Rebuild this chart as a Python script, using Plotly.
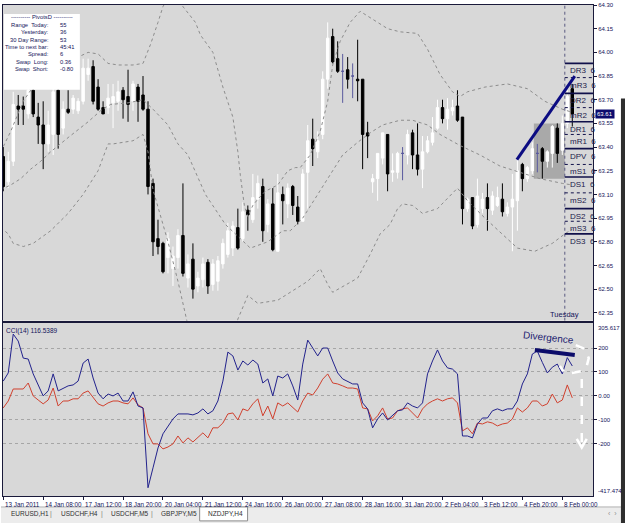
import plotly.graph_objects as go

# ---------------- data ----------------
open_ = [63.34,63.18,63.31,63.66,63.66,63.61,63.76,63.59,63.54,63.42,63.48,63.76,63.52,63.64,63.64,63.63,63.69,63.86,63.91,63.78,
         63.65,63.65,63.68,63.69,63.76,63.72,63.69,63.78,63.73,63.64,63.17,62.82,62.79,62.70,62.63,62.70,62.84,62.57,62.69,62.52,
         62.56,62.67,62.53,62.55,62.66,62.72,62.76,62.89,62.82,63.00,62.94,63.07,63.15,62.91,63.04,62.74,63.10,63.04,63.15,63.02,
         62.93,63.24,63.45,63.37,63.48,63.83,64.10,63.96,63.88,63.89,63.85,63.83,63.83,63.49,63.18,63.20,63.33,63.48,63.24,63.24,
         63.36,63.35,63.49,63.35,63.26,63.37,63.43,63.52,63.65,63.58,63.63,63.66,63.59,63.01,63.08,62.91,63.01,63.08,63.00,63.03,
         63.07,62.98,63.02,63.06,63.29,63.20,63.25,63.36,63.39,63.31,63.36,63.52,63.38,63.55,63.77]
high = [63.40,63.37,63.75,63.73,63.72,63.82,63.82,63.68,63.69,63.63,63.80,63.78,63.69,63.76,63.73,63.71,63.96,63.96,63.95,63.83,
        63.69,63.80,63.80,63.82,63.78,63.89,63.82,63.80,63.85,63.69,63.20,62.94,62.80,62.86,62.77,62.88,63.17,62.72,62.79,62.61,
        62.70,62.69,62.69,62.71,62.82,62.92,62.93,63.01,63.05,63.03,63.23,63.22,63.20,63.07,63.14,63.23,63.15,63.17,63.16,63.09,
        63.26,63.54,63.58,63.50,63.88,64.19,64.15,64.07,63.99,63.97,63.93,64.08,63.83,63.56,63.23,63.36,63.49,63.48,63.36,63.37,
        63.40,63.51,63.51,63.55,63.47,63.47,63.59,63.70,63.70,63.71,63.70,63.76,63.59,63.08,63.08,63.20,63.11,63.17,63.12,63.15,
        63.17,63.05,63.23,63.33,63.30,63.28,63.43,63.42,63.40,63.38,63.54,63.55,63.60,63.76,63.80]
low = [63.12,63.14,63.28,63.54,63.54,63.58,63.59,63.42,63.26,63.37,63.35,63.39,63.48,63.61,63.61,63.61,63.67,63.82,63.67,63.63,
       63.61,63.61,63.52,63.63,63.58,63.56,63.63,63.56,63.63,63.10,62.71,62.72,62.60,62.60,62.52,62.63,62.58,62.51,62.44,62.48,
       62.51,62.47,62.49,62.49,62.63,62.70,62.71,62.75,62.80,62.87,62.92,63.01,62.80,62.86,62.74,62.74,62.91,62.95,62.97,62.91,
       62.93,63.01,63.28,63.33,63.45,63.77,63.93,63.87,63.68,63.77,63.71,63.69,63.26,63.33,63.11,63.06,63.29,63.12,63.18,63.20,
       63.19,63.29,63.26,63.22,63.14,63.36,63.41,63.51,63.55,63.51,63.60,63.56,62.91,62.99,62.88,62.89,62.98,62.87,62.97,63.02,
       62.96,62.96,62.74,62.87,63.12,63.18,63.23,63.24,63.20,63.27,63.27,63.30,63.35,63.52,63.53]
close = [63.15,63.31,63.67,63.64,63.64,63.76,63.61,63.54,63.42,63.54,63.75,63.48,63.64,63.62,63.71,63.69,63.90,63.90,63.69,63.64,
         63.61,63.71,63.72,63.75,63.70,63.67,63.80,63.69,63.64,63.15,62.80,62.77,62.61,62.82,62.71,62.84,62.60,62.66,62.50,62.57,
         62.66,62.52,62.66,62.68,62.79,62.87,62.90,62.76,62.99,62.97,63.08,63.17,62.87,63.04,62.75,63.11,63.06,63.14,63.03,62.93,
         63.23,63.44,63.39,63.44,63.83,64.09,63.94,63.88,63.88,63.83,63.85,63.82,63.48,63.47,63.20,63.36,63.49,63.23,63.25,63.36,
         63.36,63.48,63.35,63.26,63.37,63.44,63.49,63.65,63.58,63.64,63.65,63.57,63.01,63.07,62.90,63.09,63.07,63.01,63.09,63.08,
         62.99,63.02,63.07,63.25,63.20,63.27,63.39,63.36,63.31,63.37,63.53,63.36,63.55,63.72,63.61]
doji_bars = [68, 70, 80, 107]

bb_upper_x = [-0.5,1.5,4,5.5,8,11,15,17,19,21,23,26,28,29.5,31,32,33.5,34.5,36,38.5,39.5,42,44,46,47,47.5,48.3,49,50,51,52.5,55,57,
              58.5,59.5,61.5,63.5,65,66,67.5,69.5,71.5,74,77,79.5,83,85,87.5,90,91.5,93,96.5,101,105,108.5,112,114]
bb_upper_y = [63.37,63.50,63.69,63.76,63.86,63.93,63.97,64.00,63.99,63.93,63.92,63.92,63.93,64.05,64.19,64.29,64.37,64.38,64.29,64.19,
              64.11,64.00,63.78,63.59,63.37,63.22,63.03,62.96,63.03,63.07,63.12,63.16,63.25,63.27,63.27,63.35,63.50,63.69,63.92,64.07,
              64.19,64.26,64.21,64.15,64.13,64.12,64.02,63.86,63.75,63.72,63.75,63.78,63.80,63.77,63.69,63.64,63.62]
bb_mid_x = [-0.5,1.5,3.5,5.5,7.5,9.5,13,17,19.5,21.5,25,28,30,33,35,37,40.5,44.5,47.5,49.5,53,56,57.5,60,63,65,68,71,73.5,76,79.5,
            82,85,87.5,91.5,95.5,99.5,103.5,107.5,112,114]
bb_mid_y = [63.13,63.16,63.20,63.26,63.31,63.37,63.46,63.56,63.63,63.67,63.68,63.70,63.64,63.54,63.42,63.35,63.10,62.91,62.82,62.76,
            62.80,62.87,62.87,62.95,63.10,63.20,63.35,63.43,63.49,63.54,63.57,63.57,63.54,63.48,63.41,63.35,63.28,63.24,63.20,63.17,63.16]
bb_lower_x = [-0.5,1,2,4,6,9.5,13,16,19,21,22,26,28,29,30,31.5,33,35,37,39,41,43,45,47,49,51,55,58,61,63.5,65,66,71,73.5,75.5,77.5,
              79,80,82,84,87,91,93,96.5,100,103,106.5,110,112.5,114]
bb_lower_y = [62.89,62.85,62.79,62.77,62.79,62.87,62.98,63.10,63.25,63.42,63.42,63.44,63.48,63.37,63.13,62.96,62.80,62.55,62.27,62.19,
              62.11,62.01,62.09,62.31,62.46,62.41,62.43,62.49,62.55,62.63,62.53,62.48,62.57,62.72,62.85,62.91,63.01,63.04,63.03,62.98,
              63.01,63.14,63.06,62.95,62.85,62.76,62.74,62.79,62.85,62.88]

cci_fast = [62,96,258,229,158,154,92,42,0,21,92,21,33,42,46,62,137,154,75,12,
            -12,8,0,12,-21,-21,17,-42,-50,-383,-300,-217,-158,-125,-96,-75,-75,-75,-79,-71,
            -54,-75,-62,-21,62,183,167,108,146,129,150,133,54,71,0,83,75,92,42,-17,
            133,233,200,167,200,200,146,96,71,62,50,50,-29,-54,-133,-96,-71,-100,-83,-62,
            -58,-29,-42,-50,-29,92,146,192,146,117,112,92,-167,-167,-175,-117,-92,-92,-62,-54,
            -62,-54,-54,-21,50,92,175,187,140,96,120,133,92,160,125]
cci_slow = [-50,-21,29,29,29,54,0,-17,-33,-17,33,-42,-21,-21,-12,-12,12,21,-8,-33,
            -42,-29,-21,-21,-29,-33,-8,-37,-50,-158,-200,-200,-221,-213,-200,-167,-196,-175,-192,-175,
            -154,-175,-133,-133,-113,-75,-71,-100,-54,-62,-33,-12,-83,-42,-96,-29,-42,-29,-46,-67,
            -21,12,4,33,70,92,54,50,42,33,33,29,-50,-54,-104,-83,-50,-96,-92,-62,
            -54,-50,-71,-92,-54,-33,-21,-12,-21,-12,-8,-29,-146,-133,-158,-113,-117,-108,-113,-125,
            -117,-113,-96,-50,-67,-50,-21,-21,-42,-33,8,-29,-17,46,-8]

date_pos = [0,8,16,24,32,40,48,56,64,72,80,88,96,104,112]
date_labels = ["13 Jan 2011","14 Jan 08:00","17 Jan 12:00","18 Jan 20:00","20 Jan 04:00","21 Jan 12:00","24 Jan 16:00",
               "26 Jan 00:00","27 Jan 08:00","28 Jan 16:00","31 Jan 20:00","2 Feb 04:00","3 Feb 12:00","4 Feb 20:00","8 Feb 00:00"]

price_ticks = [62.35,62.50,62.65,62.80,62.95,63.10,63.25,63.40,63.55,63.70,63.85,64.00,64.15,64.30]
cci_ticks = [200,100,0,-100,-200]
cci_ticktext = ["200","100","0.00","-100","-200"]
cci_max, cci_min = 305.617, -417.474
last_price = 63.61

pivot_names = ["DR3","mR3","DR2","mR2","DR1","mR1","DPV","mS1","DS1","mS2","DS2","mS3","DS3"]
pivot_levels = [63.93,63.84,63.74,63.65,63.56,63.48,63.39,63.29,63.21,63.11,63.01,62.93,62.85]

info_labels = ["Range  Today:","Yesterday:","30 Day Range:","Time to next bar:","Spread:","Swap  Long:","Swap  Short:"]
info_values = ["55","36","53","45:41","6","0.36","-0.80"]

tabs = ["EURUSD,H1","USDCHF,H4","USDCHF,M5","GBPJPY,M5","NZDJPY,H4"]
tab_x = [8,58,108,158,205]

trend_x = [102.9,114.5]
trend_y = [63.32,63.85]
box_x = [106.3,112.5]
box_y = [63.20,63.55]
div_x = [106.5,114.5]
div_y = [192,171]
arc_x = [114.7,116.5,117.3,116.9,115.9,113.9,112.5,111.5]
arc_y = [212,196,158,125,104,96,96,125]
separator_bar = 112.5

# ---------------- helpers ----------------
W, H = 625, 523
ML, MR, MT, MB = 2, 32, 3, 27
PW, PH = W - ML - MR, H - MT - MB
def PX(px): return (px - ML) / PW
def PY(py): return (H - MB - py) / PH

NAVY = "#14145a"
FRAME = "#1a1a3a"
FONT = "Liberation Sans"

n = len(open_)
bars = list(range(n))
norm = [i for i in bars if i not in doji_bars]

fig = go.Figure()
fig.add_trace(go.Candlestick(
    x=[bars[i] for i in norm], open=[open_[i] for i in norm], high=[high[i] for i in norm],
    low=[low[i] for i in norm], close=[close[i] for i in norm],
    increasing=dict(line=dict(color="white", width=1), fillcolor="white"),
    decreasing=dict(line=dict(color="black", width=1), fillcolor="black"),
    whiskerwidth=0, showlegend=False, hoverinfo="skip", xaxis="x", yaxis="y"))
fig.add_trace(go.Candlestick(
    x=doji_bars, open=[open_[i] for i in doji_bars], high=[high[i] for i in doji_bars],
    low=[low[i] for i in doji_bars], close=[close[i] for i in doji_bars],
    increasing=dict(line=dict(color="#5a5a9e", width=1), fillcolor="#5a5a9e"),
    decreasing=dict(line=dict(color="#5a5a9e", width=1), fillcolor="#5a5a9e"),
    whiskerwidth=0, showlegend=False, hoverinfo="skip", xaxis="x", yaxis="y"))

for bx, by in [(bb_upper_x, bb_upper_y), (bb_mid_x, bb_mid_y), (bb_lower_x, bb_lower_y)]:
    fig.add_trace(go.Scatter(x=bx, y=by, mode="lines", line=dict(color="#8c8c8c", width=1, dash="dot"),
                             showlegend=False, hoverinfo="skip", xaxis="x", yaxis="y"))

fig.add_trace(go.Scatter(x=bars, y=cci_slow, mode="lines", line=dict(color="#d0402e", width=1),
                         showlegend=False, hoverinfo="skip", xaxis="x2", yaxis="y2"))
fig.add_trace(go.Scatter(x=bars, y=cci_fast, mode="lines", line=dict(color="#22228c", width=1),
                         showlegend=False, hoverinfo="skip", xaxis="x2", yaxis="y2"))

shapes = []
shapes.append(dict(type="rect", xref="x", yref="y", x0=box_x[0], x1=box_x[1], y0=box_y[0], y1=box_y[1],
                   fillcolor="#a9a9a9", line=dict(width=0), layer="below"))
shapes.append(dict(type="line", xref="x", yref="y", x0=separator_bar, x1=separator_bar, y0=62.30, y1=64.30,
                   line=dict(color="#5a5a80", width=1, dash="dot")))
for name, lvl in zip(pivot_names, pivot_levels):
    solid = name.startswith("D")
    shapes.append(dict(type="line", xref="x", yref="y", x0=separator_bar, x1=118.15, y0=lvl, y1=lvl,
                       line=dict(color="#10104a", width=1.6 if solid else 1, dash="solid" if solid else "dot")))
shapes.append(dict(type="line", xref="x", yref="y", x0=trend_x[0], x1=trend_x[1], y0=trend_y[0], y1=trend_y[1],
                   line=dict(color="#0c0c82", width=3)))
shapes.append(dict(type="line", xref="x2", yref="y2", x0=div_x[0], x1=div_x[1], y0=div_y[0], y1=div_y[1],
                   line=dict(color="#0c0c6a", width=4)))
path = "M " + " L ".join(f"{x},{y}" for x, y in zip(arc_x, arc_y))
shapes.append(dict(type="path", xref="x2", yref="y2", path=path, line=dict(color="white", width=2.5, dash="dash")))
shapes.append(dict(type="line", xref="x2", yref="y2", x0=115.9, x1=115.9, y0=71, y1=-210,
                   line=dict(color="white", width=2.5, dash="dash")))
shapes.append(dict(type="path", xref="x2", yref="y2", path="M 114.9,-179 L 115.9,-215 L 116.9,-179",
                   line=dict(color="white", width=2.5)))
shapes.append(dict(type="rect", xref="paper", yref="paper", x0=PX(3), x1=PX(79), y0=PY(88), y1=PY(12),
                   fillcolor="white", line=dict(width=0), layer="above"))
shapes.append(dict(type="rect", xref="paper", yref="paper", x0=PX(0), x1=PX(625), y0=PY(523), y1=PY(507),
                   fillcolor="#ececec", line=dict(width=0)))
shapes.append(dict(type="line", xref="paper", yref="paper", x0=PX(0), x1=PX(625), y0=PY(507), y1=PY(507),
                   line=dict(color="#b0b0b0", width=1)))
shapes.append(dict(type="rect", xref="paper", yref="paper", x0=PX(199), x1=PX(247), y0=PY(521), y1=PY(507),
                   fillcolor="white", line=dict(color="#8a8a8a", width=1)))
shapes.append(dict(type="rect", xref="paper", yref="paper", x0=PX(621), x1=PX(626), y0=PY(524), y1=PY(97),
                   fillcolor="#2e2e2e", line=dict(width=0), layer="above"))

ann = []
tf = dict(family=FONT, color=NAVY)
ann.append(dict(xref="paper", yref="paper", x=PX(41), y=PY(15), text="---------- PivotsD ----------",
                showarrow=False, xanchor="center", yanchor="middle", font=dict(tf, size=5.8)))
for k, (lab, val) in enumerate(zip(info_labels, info_values)):
    yy = PY(23 + 7.4 * k)
    ann.append(dict(xref="paper", yref="paper", x=PX(50), y=yy, text=lab, showarrow=False,
                    xanchor="right", yanchor="middle", font=dict(tf, size=5.8)))
    ann.append(dict(xref="paper", yref="paper", x=PX(57), y=yy, text=val, showarrow=False,
                    xanchor="left", yanchor="middle", font=dict(tf, size=5.8)))
for name, lvl in zip(pivot_names, pivot_levels):
    ann.append(dict(xref="x", yref="y", x=113.2, y=lvl, text=name + "  6", showarrow=False,
                    xanchor="left", yanchor="top", yshift=-1, font=dict(tf, size=8, color="#20204a")))
ann.append(dict(xref="x", yref="y", x=separator_bar, y=62.30, text="Tuesday", showarrow=False,
                xanchor="center", yanchor="bottom", font=dict(tf, size=7.5)))
ann.append(dict(xref="paper", yref="y", x=1, xshift=2, y=last_price, text=f"{last_price:.2f}", showarrow=False,
                xanchor="left", yanchor="middle", bgcolor="#0b0b6e", borderpad=1, font=dict(family=FONT, size=6, color="white")))
ann.append(dict(xref="paper", yref="y2", x=PX(3), y=cci_max, yshift=-2, text="CCI(14) 116.5389", showarrow=False,
                xanchor="left", yanchor="top", font=dict(tf, size=6.5)))
ann.append(dict(xref="paper", yref="y2", x=1, xshift=3, y=cci_max, text=f"{cci_max:.3f}", showarrow=False,
                xanchor="left", yanchor="top", font=dict(tf, size=6)))
ann.append(dict(xref="paper", yref="y2", x=1, xshift=3, y=cci_min, text=f"{cci_min:.3f}", showarrow=False,
                xanchor="left", yanchor="bottom", font=dict(tf, size=6)))
ann.append(dict(xref="x2", yref="y2", x=109.3, y=242, text="Divergence", showarrow=False, textangle=6,
                xanchor="center", yanchor="middle", font=dict(family=FONT, size=10, color="#1c1c70")))
for p, lab in zip(date_pos, date_labels):
    ann.append(dict(xref="x2", yref="paper", x=p, y=0, yshift=-3, text=lab, showarrow=False,
                    xanchor="left", yanchor="top", font=dict(tf, size=6.3)))
for t, x in zip(tabs, tab_x):
    ann.append(dict(xref="paper", yref="paper", x=PX(x), y=PY(514), text=t, showarrow=False,
                    xanchor="left", yanchor="middle", font=dict(family=FONT, size=6.5, color="#303030")))
for x in [50, 101, 151]:
    ann.append(dict(xref="paper", yref="paper", x=PX(x), y=PY(514), text="|", showarrow=False,
                    xanchor="center", yanchor="middle", font=dict(family=FONT, size=7, color="#808080")))
ann.append(dict(xref="paper", yref="paper", x=PX(613), y=PY(514), text="‹  ›", showarrow=False,
                xanchor="center", yanchor="middle", font=dict(family=FONT, size=7, color="#909090")))

axis_common = dict(showline=True, mirror=True, linecolor=FRAME, linewidth=1, zeroline=False)
fig.update_layout(
    width=W, height=H, margin=dict(l=ML, r=MR, t=MT, b=MB),
    paper_bgcolor="white", plot_bgcolor="#d8d8d8", showlegend=False,
    xaxis=dict(axis_common, domain=[0, 1], range=[-0.05, 118.15], anchor="y", showticklabels=False,
               showgrid=False, ticks="", rangeslider=dict(visible=False)),
    xaxis2=dict(axis_common, domain=[0, 1], matches="x", anchor="y2", showticklabels=False, showgrid=False,
                tickvals=date_pos, ticks="outside", ticklen=3, tickcolor=FRAME),
    yaxis=dict(axis_common, domain=[PY(320), 1], range=[62.30, 64.30], side="right", anchor="x",
               tickvals=price_ticks, ticktext=[f"{v:.2f}" for v in price_ticks], ticks="outside", ticklen=3,
               tickcolor=FRAME, showgrid=False, tickfont=dict(family=FONT, size=6, color=NAVY)),
    yaxis2=dict(axis_common, domain=[0, PY(322)], range=[cci_min, cci_max], side="right", anchor="x2",
                tickvals=cci_ticks, ticktext=cci_ticktext, ticks="outside", ticklen=3, tickcolor=FRAME,
                showgrid=True, gridcolor="#a6a6a6", griddash="dot", gridwidth=1,
                tickfont=dict(family=FONT, size=6, color=NAVY)),
    shapes=shapes, annotations=ann,
)
fig.write_html("out.html")
